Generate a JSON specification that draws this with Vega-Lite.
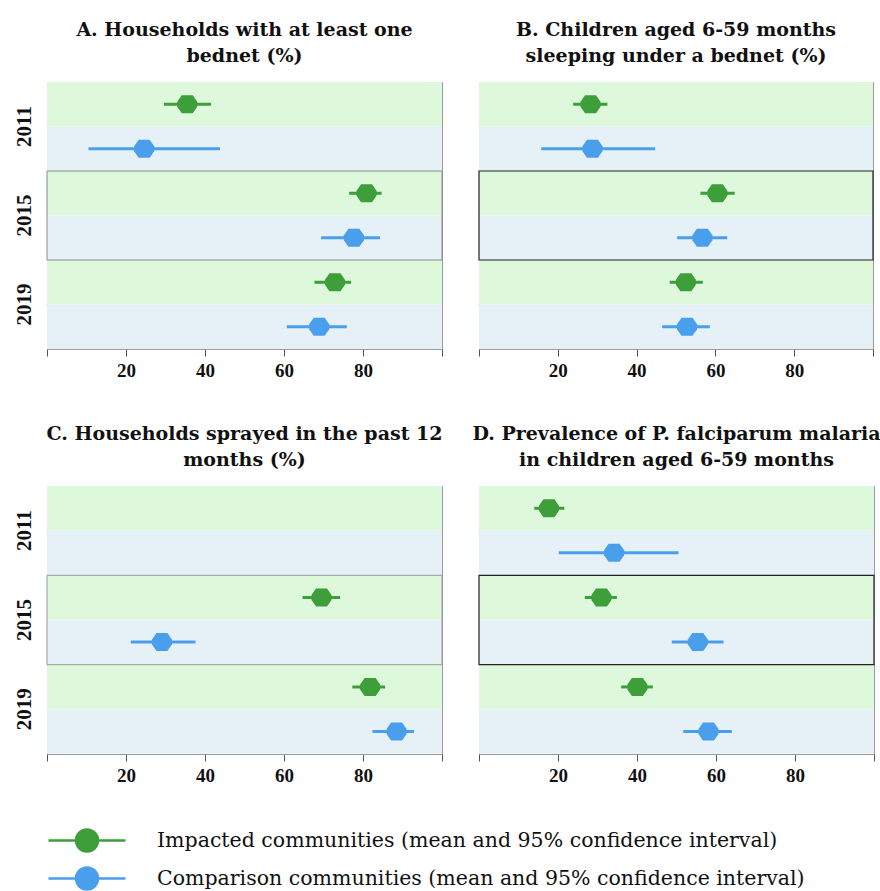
{
  "$schema": "https://vega.github.io/schema/vega-lite/v6.json",
  "padding": {"left": 12, "top": 20, "right": 5, "bottom": 5},
  "spacing": 43,
  "datasets": {
    "d": [
      {"panel": "A", "year": "2011", "group": "Impacted", "mean": 35.5, "lo": 29.6, "hi": 41.5},
      {"panel": "A", "year": "2011", "group": "Comparison", "mean": 24.6, "lo": 10.5, "hi": 43.8},
      {"panel": "A", "year": "2015", "group": "Impacted", "mean": 80.9, "lo": 76.5, "hi": 84.7},
      {"panel": "A", "year": "2015", "group": "Comparison", "mean": 77.7, "lo": 69.4, "hi": 84.3},
      {"panel": "A", "year": "2019", "group": "Impacted", "mean": 72.9, "lo": 67.7, "hi": 77.0},
      {"panel": "A", "year": "2019", "group": "Comparison", "mean": 68.9, "lo": 60.7, "hi": 75.9},
      {"panel": "B", "year": "2011", "group": "Impacted", "mean": 28.3, "lo": 23.9, "hi": 32.6},
      {"panel": "B", "year": "2011", "group": "Comparison", "mean": 28.8, "lo": 15.8, "hi": 44.7},
      {"panel": "B", "year": "2015", "group": "Impacted", "mean": 60.5, "lo": 56.2, "hi": 64.9},
      {"panel": "B", "year": "2015", "group": "Comparison", "mean": 56.7, "lo": 50.3, "hi": 63.0},
      {"panel": "B", "year": "2019", "group": "Impacted", "mean": 52.5, "lo": 48.4, "hi": 56.8},
      {"panel": "B", "year": "2019", "group": "Comparison", "mean": 52.8, "lo": 46.5, "hi": 58.6},
      {"panel": "C", "year": "2011", "group": "Impacted", "mean": null, "lo": null, "hi": null},
      {"panel": "C", "year": "2011", "group": "Comparison", "mean": null, "lo": null, "hi": null},
      {"panel": "C", "year": "2015", "group": "Impacted", "mean": 69.5, "lo": 64.7, "hi": 74.2},
      {"panel": "C", "year": "2015", "group": "Comparison", "mean": 29.1, "lo": 21.2, "hi": 37.6},
      {"panel": "C", "year": "2019", "group": "Impacted", "mean": 81.8, "lo": 77.3, "hi": 85.6},
      {"panel": "C", "year": "2019", "group": "Comparison", "mean": 88.5, "lo": 82.4, "hi": 92.9},
      {"panel": "D", "year": "2011", "group": "Impacted", "mean": 17.7, "lo": 14.0, "hi": 21.6},
      {"panel": "D", "year": "2011", "group": "Comparison", "mean": 34.2, "lo": 20.2, "hi": 50.5},
      {"panel": "D", "year": "2015", "group": "Impacted", "mean": 31.0, "lo": 26.8, "hi": 34.9},
      {"panel": "D", "year": "2015", "group": "Comparison", "mean": 55.4, "lo": 48.8, "hi": 61.9},
      {"panel": "D", "year": "2019", "group": "Impacted", "mean": 40.1, "lo": 36.0, "hi": 44.0},
      {"panel": "D", "year": "2019", "group": "Comparison", "mean": 58.1, "lo": 51.7, "hi": 64.0}
    ]
  },
  "config": {
    "view": {"stroke": "#9a9a9a"},
    "font": "Liberation Serif",
    "title": {"font": "DejaVu Serif", "fontSize": 19, "fontWeight": "bold", "lineHeight": 26, "offset": 16, "frame": "group", "color": "#111"},
    "axisX": {"labelExpr": "datum.value === 0 || datum.value === 100 ? '' : datum.label", "grid": false, "title": null, "labelFont": "Liberation Serif", "labelFontSize": 19, "labelFontWeight": "bold", "labelColor": "#111", "tickColor": "#555", "tickSize": 7, "domainColor": "#9a9a9a", "labelPadding": 5},
    "axisY": {"title": null, "ticks": false, "tickSize": 0, "domain": false, "grid": false, "labelAngle": 270, "labelFont": "Liberation Serif", "labelFontSize": 21, "labelFontWeight": "bold", "labelColor": "#111", "labelPadding": 13}
  },
  "vconcat": [
    {
      "bounds": "flush",
      "spacing": 37,
      "hconcat": [
        {
          "width": 395, "height": 267,
          "title": {"text": ["A. Households with at least one", "bednet (%)"]},
          "data": {"name": "d"},
          "transform": [{"filter": "datum.panel === 'A'"}],
          "encoding": {"y": {"field": "year", "type": "nominal", "scale": {"paddingInner": 0, "paddingOuter": 0}}},
          "layer": [
            {"mark": {"type": "bar"}, "encoding": {"x": {"datum": 0, "type": "quantitative", "scale": {"domain": [0, 100], "nice": false}, "axis": {"values": [0, 20, 40, 60, 80, 100]}}, "x2": {"datum": 100}, "yOffset": {"field": "group", "type": "nominal", "scale": {"domain": ["Impacted", "Comparison"], "paddingInner": 0, "paddingOuter": 0}}, "fill": {"field": "group", "type": "nominal", "scale": {"domain": ["Comparison", "Impacted"], "range": ["#e5f1f7", "#ddf8db"]}, "legend": null}}},
            {"transform": [{"filter": "datum.year === '2015' && datum.group === 'Impacted'"}], "mark": {"type": "bar", "fill": "transparent", "stroke": "#8a8a8a", "strokeWidth": 1}, "encoding": {"x": {"datum": 0, "type": "quantitative"}, "x2": {"datum": 100}}},
            {"mark": {"type": "rule", "strokeWidth": 3}, "encoding": {"x": {"field": "lo", "type": "quantitative"}, "x2": {"field": "hi"}, "yOffset": {"field": "group", "type": "nominal", "scale": {"domain": ["Impacted", "Comparison"], "paddingInner": 0, "paddingOuter": 0}}, "color": {"field": "group", "type": "nominal", "scale": {"domain": ["Impacted", "Comparison"], "range": ["#3d9e3a", "#4a9fec"]}}}},
            {"mark": {"type": "point", "filled": true, "opacity": 1, "size": 400, "shape": "M-1,-0.25L-0.55,-0.9L0.55,-0.9L1,-0.25L1,0.25L0.55,0.9L-0.55,0.9L-1,0.25Z"}, "encoding": {"x": {"field": "mean", "type": "quantitative"}, "yOffset": {"field": "group", "type": "nominal", "scale": {"domain": ["Impacted", "Comparison"], "paddingInner": 0, "paddingOuter": 0}}, "color": {"field": "group", "type": "nominal", "scale": {"domain": ["Impacted", "Comparison"], "range": ["#3d9e3a", "#4a9fec"]}, "legend": {"title": null, "orient": "bottom", "offset": 43, "direction": "vertical", "symbolType": "M-1,0H6.7M3.95,0A1.1,1.1,0,1,1,1.75,0A1.1,1.1,0,1,1,3.95,0Z", "symbolSize": 400, "symbolStrokeWidth": 2.5, "symbolOpacity": 1, "labelFont": "DejaVu Serif", "labelFontSize": 20.5, "labelColor": "#111", "labelLimit": 800, "labelOffset": 87, "rowPadding": 5, "labelExpr": "datum.value === 'Impacted' ? 'Impacted communities (mean and 95% confidence interval)' : 'Comparison communities (mean and 95% confidence interval)'", "encoding": {"symbols": {"fill": {"condition": {"test": "datum.value === 'Impacted'", "value": "#70ad47"}, "value": "#1a8cff"}, "stroke": {"condition": {"test": "datum.value === 'Impacted'", "value": "#70ad47"}, "value": "#1a8cff"}}}}}}}
          ]
        },
        {
          "width": 394, "height": 267,
          "title": {"text": ["B. Children aged 6-59 months", "sleeping under a bednet (%)"]},
          "data": {"name": "d"},
          "transform": [{"filter": "datum.panel === 'B'"}],
          "encoding": {"y": {"field": "year", "type": "nominal", "scale": {"paddingInner": 0, "paddingOuter": 0}, "axis": null}},
          "layer": [
            {"mark": {"type": "bar"}, "encoding": {"x": {"datum": 0, "type": "quantitative", "scale": {"domain": [0, 100], "nice": false}, "axis": {"values": [0, 20, 40, 60, 80, 100]}}, "x2": {"datum": 100}, "yOffset": {"field": "group", "type": "nominal", "scale": {"domain": ["Impacted", "Comparison"], "paddingInner": 0, "paddingOuter": 0}}, "fill": {"field": "group", "type": "nominal", "scale": {"domain": ["Comparison", "Impacted"], "range": ["#e5f1f7", "#ddf8db"]}, "legend": null}}},
            {"transform": [{"filter": "datum.year === '2015' && datum.group === 'Impacted'"}], "mark": {"type": "bar", "fill": "transparent", "stroke": "#222", "strokeWidth": 1.2}, "encoding": {"x": {"datum": 0, "type": "quantitative"}, "x2": {"datum": 100}}},
            {"mark": {"type": "rule", "strokeWidth": 3}, "encoding": {"x": {"field": "lo", "type": "quantitative"}, "x2": {"field": "hi"}, "yOffset": {"field": "group", "type": "nominal", "scale": {"domain": ["Impacted", "Comparison"], "paddingInner": 0, "paddingOuter": 0}}, "color": {"field": "group", "type": "nominal", "scale": {"domain": ["Impacted", "Comparison"], "range": ["#3d9e3a", "#4a9fec"]}}}},
            {"mark": {"type": "point", "filled": true, "opacity": 1, "size": 400, "shape": "M-1,-0.25L-0.55,-0.9L0.55,-0.9L1,-0.25L1,0.25L0.55,0.9L-0.55,0.9L-1,0.25Z"}, "encoding": {"x": {"field": "mean", "type": "quantitative"}, "yOffset": {"field": "group", "type": "nominal", "scale": {"domain": ["Impacted", "Comparison"], "paddingInner": 0, "paddingOuter": 0}}, "color": {"field": "group", "type": "nominal", "scale": {"domain": ["Impacted", "Comparison"], "range": ["#3d9e3a", "#4a9fec"]}}}}
          ]
        }
      ]
    },
    {
      "bounds": "flush",
      "spacing": 37,
      "hconcat": [
        {
          "width": 395, "height": 268,
          "title": {"text": ["C. Households sprayed in the past 12", "months (%)"]},
          "data": {"name": "d"},
          "transform": [{"filter": "datum.panel === 'C'"}],
          "encoding": {"y": {"field": "year", "type": "nominal", "scale": {"paddingInner": 0, "paddingOuter": 0}}},
          "layer": [
            {"mark": {"type": "bar"}, "encoding": {"x": {"datum": 0, "type": "quantitative", "scale": {"domain": [0, 100], "nice": false}, "axis": {"values": [0, 20, 40, 60, 80, 100]}}, "x2": {"datum": 100}, "yOffset": {"field": "group", "type": "nominal", "scale": {"domain": ["Impacted", "Comparison"], "paddingInner": 0, "paddingOuter": 0}}, "fill": {"field": "group", "type": "nominal", "scale": {"domain": ["Comparison", "Impacted"], "range": ["#e5f1f7", "#ddf8db"]}, "legend": null}}},
            {"transform": [{"filter": "datum.year === '2015' && datum.group === 'Impacted'"}], "mark": {"type": "bar", "fill": "transparent", "stroke": "#9a9a9a", "strokeWidth": 1}, "encoding": {"x": {"datum": 0, "type": "quantitative"}, "x2": {"datum": 100}}},
            {"mark": {"type": "rule", "strokeWidth": 3}, "encoding": {"x": {"field": "lo", "type": "quantitative"}, "x2": {"field": "hi"}, "yOffset": {"field": "group", "type": "nominal", "scale": {"domain": ["Impacted", "Comparison"], "paddingInner": 0, "paddingOuter": 0}}, "color": {"field": "group", "type": "nominal", "scale": {"domain": ["Impacted", "Comparison"], "range": ["#3d9e3a", "#4a9fec"]}}}},
            {"mark": {"type": "point", "filled": true, "opacity": 1, "size": 400, "shape": "M-1,-0.25L-0.55,-0.9L0.55,-0.9L1,-0.25L1,0.25L0.55,0.9L-0.55,0.9L-1,0.25Z"}, "encoding": {"x": {"field": "mean", "type": "quantitative"}, "yOffset": {"field": "group", "type": "nominal", "scale": {"domain": ["Impacted", "Comparison"], "paddingInner": 0, "paddingOuter": 0}}, "color": {"field": "group", "type": "nominal", "scale": {"domain": ["Impacted", "Comparison"], "range": ["#3d9e3a", "#4a9fec"]}}}}
          ]
        },
        {
          "width": 395, "height": 268,
          "title": {"text": ["D. Prevalence of P. falciparum malaria", "in children aged 6-59 months"]},
          "data": {"name": "d"},
          "transform": [{"filter": "datum.panel === 'D'"}],
          "encoding": {"y": {"field": "year", "type": "nominal", "scale": {"paddingInner": 0, "paddingOuter": 0}, "axis": null}},
          "layer": [
            {"mark": {"type": "bar"}, "encoding": {"x": {"datum": 0, "type": "quantitative", "scale": {"domain": [0, 100], "nice": false}, "axis": {"values": [0, 20, 40, 60, 80, 100]}}, "x2": {"datum": 100}, "yOffset": {"field": "group", "type": "nominal", "scale": {"domain": ["Impacted", "Comparison"], "paddingInner": 0, "paddingOuter": 0}}, "fill": {"field": "group", "type": "nominal", "scale": {"domain": ["Comparison", "Impacted"], "range": ["#e5f1f7", "#ddf8db"]}, "legend": null}}},
            {"transform": [{"filter": "datum.year === '2015' && datum.group === 'Impacted'"}], "mark": {"type": "bar", "fill": "transparent", "stroke": "#222", "strokeWidth": 1.2}, "encoding": {"x": {"datum": 0, "type": "quantitative"}, "x2": {"datum": 100}}},
            {"mark": {"type": "rule", "strokeWidth": 3}, "encoding": {"x": {"field": "lo", "type": "quantitative"}, "x2": {"field": "hi"}, "yOffset": {"field": "group", "type": "nominal", "scale": {"domain": ["Impacted", "Comparison"], "paddingInner": 0, "paddingOuter": 0}}, "color": {"field": "group", "type": "nominal", "scale": {"domain": ["Impacted", "Comparison"], "range": ["#3d9e3a", "#4a9fec"]}}}},
            {"mark": {"type": "point", "filled": true, "opacity": 1, "size": 400, "shape": "M-1,-0.25L-0.55,-0.9L0.55,-0.9L1,-0.25L1,0.25L0.55,0.9L-0.55,0.9L-1,0.25Z"}, "encoding": {"x": {"field": "mean", "type": "quantitative"}, "yOffset": {"field": "group", "type": "nominal", "scale": {"domain": ["Impacted", "Comparison"], "paddingInner": 0, "paddingOuter": 0}}, "color": {"field": "group", "type": "nominal", "scale": {"domain": ["Impacted", "Comparison"], "range": ["#3d9e3a", "#4a9fec"]}}}}
          ]
        }
      ]
    }
  ]
}
